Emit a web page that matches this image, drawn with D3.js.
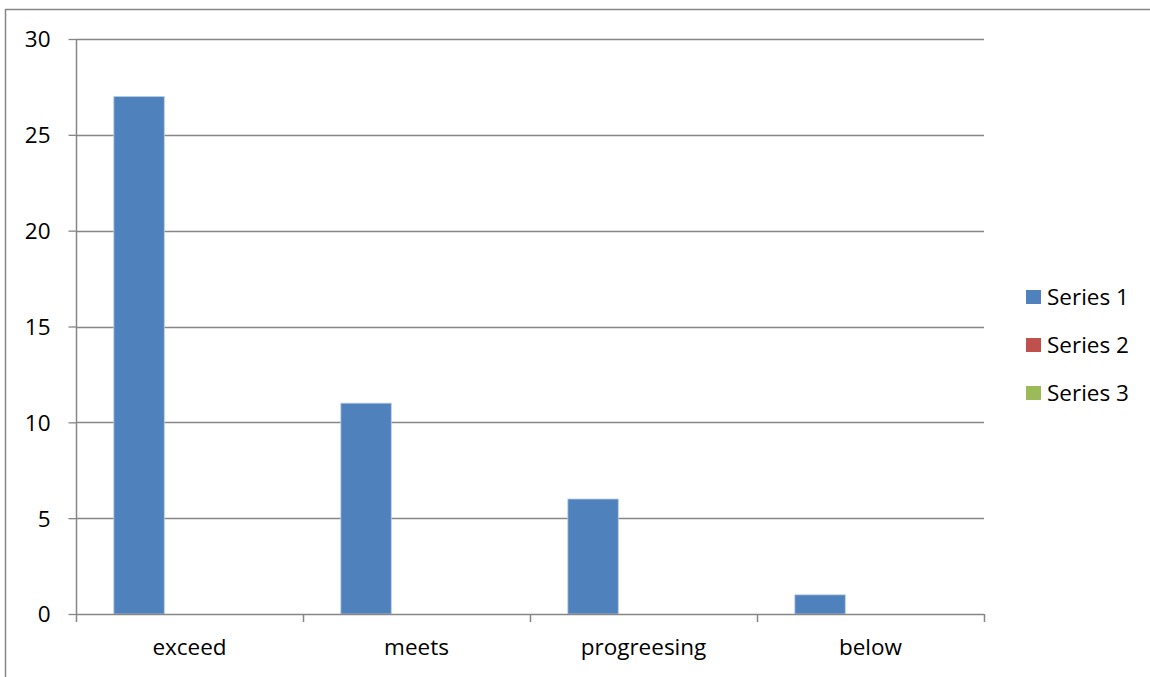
<!DOCTYPE html>
<html>
<head>
<meta charset="utf-8">
<script src="https://cdn.jsdelivr.net/npm/d3@7"></script>
<style>
  html, body { margin: 0; padding: 0; background: #fff; }
  svg { display: block; }
  text { font-family: "Open Sans", sans-serif; fill: #000; }
</style>
</head>
<body>
<svg id="chart" width="1150" height="677"></svg>
<script>
// Category labels and values per series
const categories = ["exceed", "meets", "progreesing", "below"];
const seriesNames = ["Series 1", "Series 2", "Series 3"];
const series1 = [27, 11, 6, 1];
const series2 = [0, 0, 0, 0];
const series3 = [0, 0, 0, 0];
const yTicks = [0, 5, 10, 15, 20, 25, 30];
const colors = ["#4F81BD", "#C0504D", "#9BBB59"];

const seriesValues = [series1, series2, series3];
const FONT = "'Open Sans', sans-serif";
const FS = 22.5;

const svg = d3.select("#chart");
const W = 1150, H = 677;

// Outer chart frame
svg.append("rect")
  .attr("x", 5.5).attr("y", 9.5)
  .attr("width", W + 10).attr("height", H + 10)
  .attr("fill", "#fff")
  .attr("stroke", "#868686").attr("stroke-width", 1.5);

const plot = { left: 76, right: 984, top: 39, bottom: 614 };

const x = d3.scaleBand()
  .domain(categories)
  .range([plot.left, plot.right])
  .paddingInner(0).paddingOuter(0);

// Excel-style clustering: 3 series with a 150% gap
const inner = d3.scaleBand()
  .domain(seriesNames)
  .range([0, x.bandwidth()])
  .paddingInner(0)
  .paddingOuter(0.75);

const y = d3.scaleLinear().domain([0, 30]).range([plot.bottom, plot.top]);

// Horizontal gridlines
svg.append("g")
  .selectAll("line")
  .data(yTicks.filter(d => d > 0))
  .join("line")
  .attr("x1", plot.left).attr("x2", plot.right)
  .attr("y1", d => Math.round(y(d)) + 0.5).attr("y2", d => Math.round(y(d)) + 0.5)
  .attr("stroke", "#868686").attr("stroke-width", 1.3);

// Bars
const rows = [];
seriesValues.forEach((vals, si) => {
  vals.forEach((v, ci) => rows.push({ s: seriesNames[si], c: categories[ci], v, color: colors[si] }));
});
svg.append("g")
  .selectAll("rect")
  .data(rows.filter(d => d.v > 0))
  .join("rect")
  .attr("x", d => x(d.c) + inner(d.s))
  .attr("y", d => y(d.v))
  .attr("width", inner.bandwidth())
  .attr("height", d => y(0) - y(d.v))
  .attr("fill", d => d.color)
  .attr("stroke", "#B9CDE5").attr("stroke-width", 0.8);

// Y axis
const yAxis = svg.append("g")
  .attr("transform", `translate(${plot.left + 0.5},0)`)
  .call(d3.axisLeft(y).tickValues(yTicks).tickSize(8).tickPadding(18).tickFormat(d3.format("d")));
yAxis.attr("font-size", FS).attr("font-family", FONT);
yAxis.select(".domain").attr("stroke", "#868686").attr("stroke-width", 1.5).attr("d", `M0,${plot.top}V${plot.bottom}`);
yAxis.selectAll(".tick line").attr("stroke", "#868686").attr("stroke-width", 1.3);
yAxis.selectAll(".tick text").attr("fill", "#000").attr("dy", "0.35em");

// X axis
const xAxis = svg.append("g")
  .attr("transform", `translate(0,${plot.bottom + 0.5})`)
  .call(d3.axisBottom(x).tickSize(0).tickPadding(25));
xAxis.attr("font-size", FS).attr("font-family", FONT);
xAxis.select(".domain").attr("stroke", "#868686").attr("stroke-width", 1.5).attr("d", `M${plot.left},0H${plot.right}`);
xAxis.selectAll(".tick text").attr("fill", "#000");

// Category boundary ticks
const bounds = categories.map(c => x(c)).concat([plot.right]);
svg.append("g")
  .selectAll("line")
  .data(bounds)
  .join("line")
  .attr("x1", d => Math.round(d) + 0.5).attr("x2", d => Math.round(d) + 0.5)
  .attr("y1", plot.bottom).attr("y2", plot.bottom + 8)
  .attr("stroke", "#868686").attr("stroke-width", 1.5);

// Legend
const legend = svg.append("g").attr("transform", "translate(1026,290)");
const item = legend.selectAll("g")
  .data(seriesNames)
  .join("g")
  .attr("transform", (d, i) => `translate(0,${i * 48})`);
item.append("rect")
  .attr("width", 15).attr("height", 14)
  .attr("fill", (d, i) => colors[i]);
item.append("text")
  .attr("x", 21).attr("y", 7)
  .attr("dy", "0.35em")
  .attr("font-size", FS)
  .text(d => d);
</script>
</body>
</html>
